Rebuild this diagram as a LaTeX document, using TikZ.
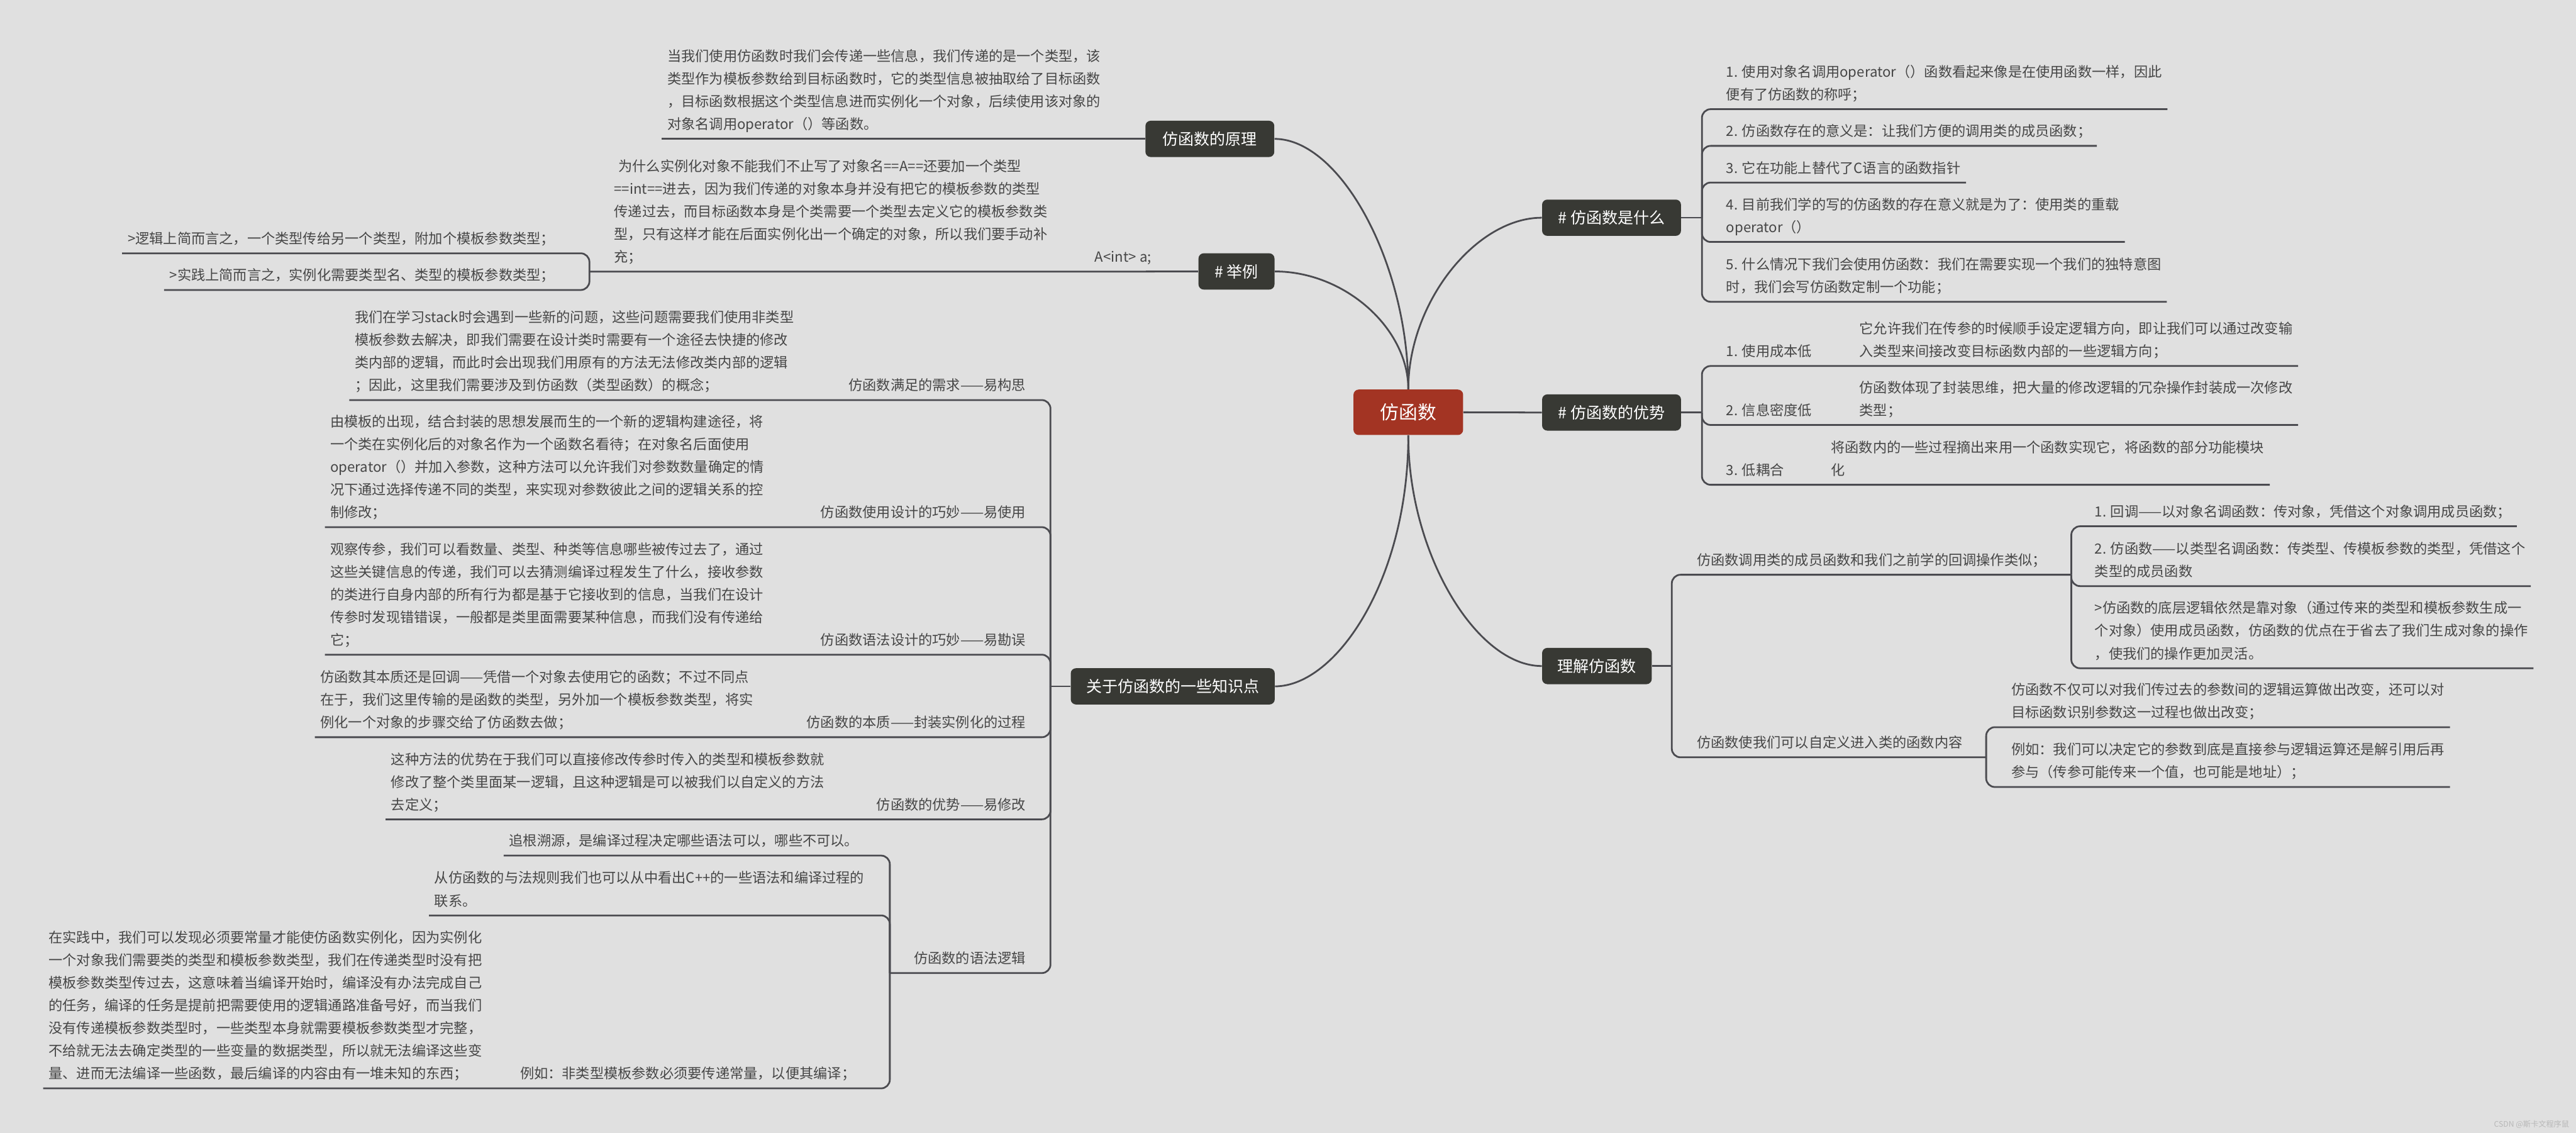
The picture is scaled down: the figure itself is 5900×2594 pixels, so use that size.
\documentclass[tikz,border=0pt]{standalone}
\usepackage{fontspec}
\setmainfont{Noto Sans CJK SC}
\definecolor{bgc}{HTML}{E0E0E0}
\definecolor{lnc}{HTML}{4B4B50}
\definecolor{brc}{HTML}{383934}
\definecolor{rootc}{HTML}{A33423}
\definecolor{txc}{HTML}{464646}
\newcommand{\leaffont}{\fontsize{9.1pt}{14.8pt}\selectfont}
\newcommand{\brfont}{\fontsize{10.24pt}{12pt}\selectfont}
\newcommand{\rootfont}{\fontsize{12.2pt}{14pt}\selectfont}
\newcommand{\wmfont}{\fontsize{5pt}{6pt}\selectfont}
\newcommand{\lstrut}{\rule[-0.07cm]{0pt}{0.1cm}}
\tikzset{
  ln/.style={draw=lnc, line width=0.04cm},
  rc/.style={rounded corners=0.2cm},
  leaf/.style={font=\leaffont, text=txc, align=left, inner xsep=0.12cm, inner ysep=0.14cm, execute at end node=\lstrut},
  branch/.style={fill=brc, text=white, font=\brfont, rounded corners=0.12cm, inner sep=0, minimum height=0.83cm},
  rootbox/.style={fill=rootc, text=white, font=\rootfont, rounded corners=0.12cm, inner sep=0, minimum width=2.51cm, minimum height=1.04cm},
}
\begin{document}
\begin{tikzpicture}[x=0.01cm, y=-0.01cm]
\useasboundingbox (0,0) rectangle (5900,2594);
\fill[bgc] (0,0) rectangle (5900,2594);

% ---------- root and branches ----------
\node[rootbox] (rt) at (3225.5,944) {仿函数};
\node[branch, minimum width=2.95cm] (yl) at (2771,318) {仿函数的原理};
\node[branch, minimum width=1.74cm] (ex) at (2832,621.5) {\# 举例};
\node[branch, minimum width=3.18cm] (wh) at (3691,498.5) {\# 仿函数是什么};
\node[branch, minimum width=3.18cm] (adv) at (3691,944.5) {\# 仿函数的优势};
\node[branch, minimum width=2.51cm] (un) at (3657.5,1525) {理解仿函数};
\node[branch, minimum width=4.67cm] (kn) at (2686,1571.5) {关于仿函数的一些知识点};

\draw[ln] (yl.east) .. controls +(150,0) and +(0,-290) .. (rt.north);
\draw[ln] (ex.east) .. controls +(160,0) and +(0,-140) .. (rt.north);
\draw[ln] (wh.west) .. controls +(-150,0) and +(0,-200) .. (rt.north);
\draw[ln] (kn.east) .. controls +(140,0) and +(0,330) .. (rt.south);
\draw[ln] (un.west) .. controls +(-150,0) and +(0,270) .. (rt.south);
\draw[ln] (rt.east) -- (adv.west);

% ---------- 仿函数的原理 ----------
\node[leaf, anchor=south west] (pr) at (1516,318) {当我们使用仿函数时我们会传递一些信息，我们传递的是一个类型，该\\类型作为模板参数给到目标函数时，它的类型信息被抽取给了目标函数\\，目标函数根据这个类型信息进而实例化一个对象，后续使用该对象的\\对象名调用operator（）等函数。};
\draw[ln] (yl.west) -- (pr.south west);

% ---------- 举例 ----------
\node[leaf, anchor=south west] (exa) at (2495,622) {A<int> a;};
\node[leaf, anchor=south west] (expara) at (1394,622) {\hspace*{0.1cm}为什么实例化对象不能我们不止写了对象名==A==还要加一个类型\\==int==进去，因为我们传递的对象本身并没有把它的模板参数的类型\\传递过去，而目标函数本身是个类需要一个类型去定义它的模板参数类\\型，只有这样才能在后面实例化出一个确定的对象，所以我们要手动补\\充；};
\coordinate (eS) at (1350,622);
\draw[ln] (ex.west) -- (exa.south west) -- (expara.south west) -- (eS);
\node[leaf, anchor=south east] (x1) at (1283,580) {>逻辑上简而言之，一个类型传给另一个类型，附加个模板参数类型；};
\node[leaf, anchor=south east] (x2) at (1283,664) {>实践上简而言之，实例化需要类型名、类型的模板参数类型；};
\draw[ln, rc] (eS) |- (x1.south west);
\draw[ln, rc] (eS) |- (x2.south west);

% ---------- 仿函数是什么 ----------
\coordinate (wS) at (3898,498.5);
\draw[ln] (wh.east) -- (wS);
\node[leaf, anchor=south west] (w1) at (3941,250) {1. 使用对象名调用operator（）函数看起来像是在使用函数一样，因此\\便有了仿函数的称呼；};
\node[leaf, anchor=south west] (w2) at (3941,334) {2. 仿函数存在的意义是：让我们方便的调用类的成员函数；};
\node[leaf, anchor=south west] (w3) at (3941,418) {3. 它在功能上替代了C语言的函数指针};
\node[leaf, anchor=south west] (w4) at (3941,554) {4. 目前我们学的写的仿函数的存在意义就是为了：使用类的重载\\operator（）};
\node[leaf, anchor=south west] (w5) at (3941,691) {5. 什么情况下我们会使用仿函数：我们在需要实现一个我们的独特意图\\时，我们会写仿函数定制一个功能；};
\foreach \n in {w1,w2,w3,w4,w5} \draw[ln, rc] (wS) |- (\n.south east);

% ---------- 仿函数的优势 ----------
\coordinate (aS) at (3898,944.5);
\draw[ln] (adv.east) -- (aS);
\node[leaf, anchor=south west] (c1) at (3941,838) {1. 使用成本低};
\node[leaf, anchor=south west] (c2) at (3941,973) {2. 信息密度低};
\node[leaf, anchor=south west] (c3) at (3941,1110) {3. 低耦合};
\node[leaf, anchor=south west] (g1) at (4246,838) {它允许我们在传参的时候顺手设定逻辑方向，即让我们可以通过改变输\\入类型来间接改变目标函数内部的一些逻辑方向；};
\node[leaf, anchor=south west] (g2) at (4246,973) {仿函数体现了封装思维，把大量的修改逻辑的冗杂操作封装成一次修改\\类型；};
\node[leaf, anchor=south west] (g3) at (4181,1110) {将函数内的一些过程摘出来用一个函数实现它，将函数的部分功能模块\\化};
\draw[ln, rc] (aS) |- (c1.south east) -- (g1.south east);
\draw[ln, rc] (aS) |- (c2.south east) -- (g2.south east);
\draw[ln, rc] (aS) |- (c3.south east) -- (g3.south east);

% ---------- 理解仿函数 ----------
\coordinate (uS) at (3829,1525);
\draw[ln] (un.east) -- (uS);
\node[leaf, anchor=south west] (d1) at (3874,1316) {仿函数调用类的成员函数和我们之前学的回调操作类似；};
\node[leaf, anchor=south west] (d2) at (3874,1734) {仿函数使我们可以自定义进入类的函数内容};
\coordinate (dS1) at (4744,1316);
\coordinate (dS2) at (4549,1734);
\draw[ln, rc] (uS) |- (d1.south east) -- (dS1);
\draw[ln, rc] (uS) |- (d2.south east) -- (dS2);
\node[leaf, anchor=south west] (e1) at (4785,1205) {1. 回调——以对象名调函数：传对象，凭借这个对象调用成员函数；};
\node[leaf, anchor=south west] (e2) at (4785,1342) {2. 仿函数——以类型名调函数：传类型、传模板参数的类型，凭借这个\\类型的成员函数};
\node[leaf, anchor=south west] (e3) at (4785,1530) {>仿函数的底层逻辑依然是靠对象（通过传来的类型和模板参数生成一\\个对象）使用成员函数，仿函数的优点在于省去了我们生成对象的操作\\，使我们的操作更加灵活。};
\foreach \n in {e1,e2,e3} \draw[ln, rc] (dS1) |- (\n.south east);
\node[leaf, anchor=south west] (f1) at (4594,1665) {仿函数不仅可以对我们传过去的参数间的逻辑运算做出改变，还可以对\\目标函数识别参数这一过程也做出改变；};
\node[leaf, anchor=south west] (f2) at (4594,1802) {例如：我们可以决定它的参数到底是直接参与逻辑运算还是解引用后再\\参与（传参可能传来一个值，也可能是地址）；};
\foreach \n in {f1,f2} \draw[ln, rc] (dS2) |- (\n.south east);

% ---------- 关于仿函数的一些知识点 ----------
\coordinate (kS) at (2406,1571.5);
\draw[ln] (kn.west) -- (kS);
\node[leaf, anchor=south east] (k1) at (2362,916) {仿函数满足的需求——易构思};
\node[leaf, anchor=south west] (p1) at (800,916) {我们在学习stack时会遇到一些新的问题，这些问题需要我们使用非类型\\模板参数去解决，即我们需要在设计类时需要有一个途径去快捷的修改\\类内部的逻辑，而此时会出现我们用原有的方法无法修改类内部的逻辑\\；因此，这里我们需要涉及到仿函数（类型函数）的概念；};
\node[leaf, anchor=south east] (k2) at (2362,1207) {仿函数使用设计的巧妙——易使用};
\node[leaf, anchor=south west] (p2) at (744,1207) {由模板的出现，结合封装的思想发展而生的一个新的逻辑构建途径，将\\一个类在实例化后的对象名作为一个函数名看待；在对象名后面使用\\operator（）并加入参数，这种方法可以允许我们对参数数量确定的情\\况下通过选择传递不同的类型，来实现对参数彼此之间的逻辑关系的控\\制修改；};
\node[leaf, anchor=south east] (k3) at (2362,1499) {仿函数语法设计的巧妙——易勘误};
\node[leaf, anchor=south west] (p3) at (744,1499) {观察传参，我们可以看数量、类型、种类等信息哪些被传过去了，通过\\这些关键信息的传递，我们可以去猜测编译过程发生了什么，接收参数\\的类进行自身内部的所有行为都是基于它接收到的信息，当我们在设计\\传参时发现错错误，一般都是类里面需要某种信息，而我们没有传递给\\它；};
\node[leaf, anchor=south east] (k4) at (2362,1688) {仿函数的本质——封装实例化的过程};
\node[leaf, anchor=south west] (p4) at (721,1688) {仿函数其本质还是回调——凭借一个对象去使用它的函数；不过不同点\\在于，我们这里传输的是函数的类型，另外加一个模板参数类型，将实\\例化一个对象的步骤交给了仿函数去做；};
\node[leaf, anchor=south east] (k5) at (2362,1876) {仿函数的优势——易修改};
\node[leaf, anchor=south west] (p5) at (883,1876) {这种方法的优势在于我们可以直接修改传参时传入的类型和模板参数就\\修改了整个类里面某一逻辑，且这种逻辑是可以被我们以自定义的方法\\去定义；};
\node[leaf, anchor=south east] (k6) at (2362,2228) {仿函数的语法逻辑};
\foreach \a/\b in {k1/p1,k2/p2,k3/p3,k4/p4,k5/p5} \draw[ln, rc] (kS) |- (\a.south west) -- (\b.south west);
\coordinate (mS) at (2038,2228);
\draw[ln, rc] (kS) |- (k6.south west) -- (mS);
\node[leaf, anchor=south east] (m1) at (1979,1959) {追根溯源，是编译过程决定哪些语法可以，哪些不可以。};
\node[leaf, anchor=south east] (m2) at (1992,2096) {从仿函数的与法规则我们也可以从中看出C++的一些语法和编译过程的\\联系。};
\node[leaf, anchor=south east] (m3) at (1972,2492) {例如：非类型模板参数必须要传递常量，以便其编译；};
\node[leaf, anchor=south west] (pm3) at (99,2492) {在实践中，我们可以发现必须要常量才能使仿函数实例化，因为实例化\\一个对象我们需要类的类型和模板参数类型，我们在传递类型时没有把\\模板参数类型传过去，这意味着当编译开始时，编译没有办法完成自己\\的任务，编译的任务是提前把需要使用的逻辑通路准备号好，而当我们\\没有传递模板参数类型时，一些类型本身就需要模板参数类型才完整，\\不给就无法去确定类型的一些变量的数据类型，所以就无法编译这些变\\量、进而无法编译一些函数，最后编译的内容由有一堆未知的东西；};
\draw[ln, rc] (mS) |- (m1.south west);
\draw[ln, rc] (mS) |- (m2.south west);
\draw[ln, rc] (mS) |- (m3.south west) -- (pm3.south west);

% ---------- watermark ----------
\node[font=\wmfont, text=black!28, anchor=east, inner sep=0] (wm) at (5885,2575) {CSDN @斯卡文程序鼠};
\end{tikzpicture}
\end{document}
